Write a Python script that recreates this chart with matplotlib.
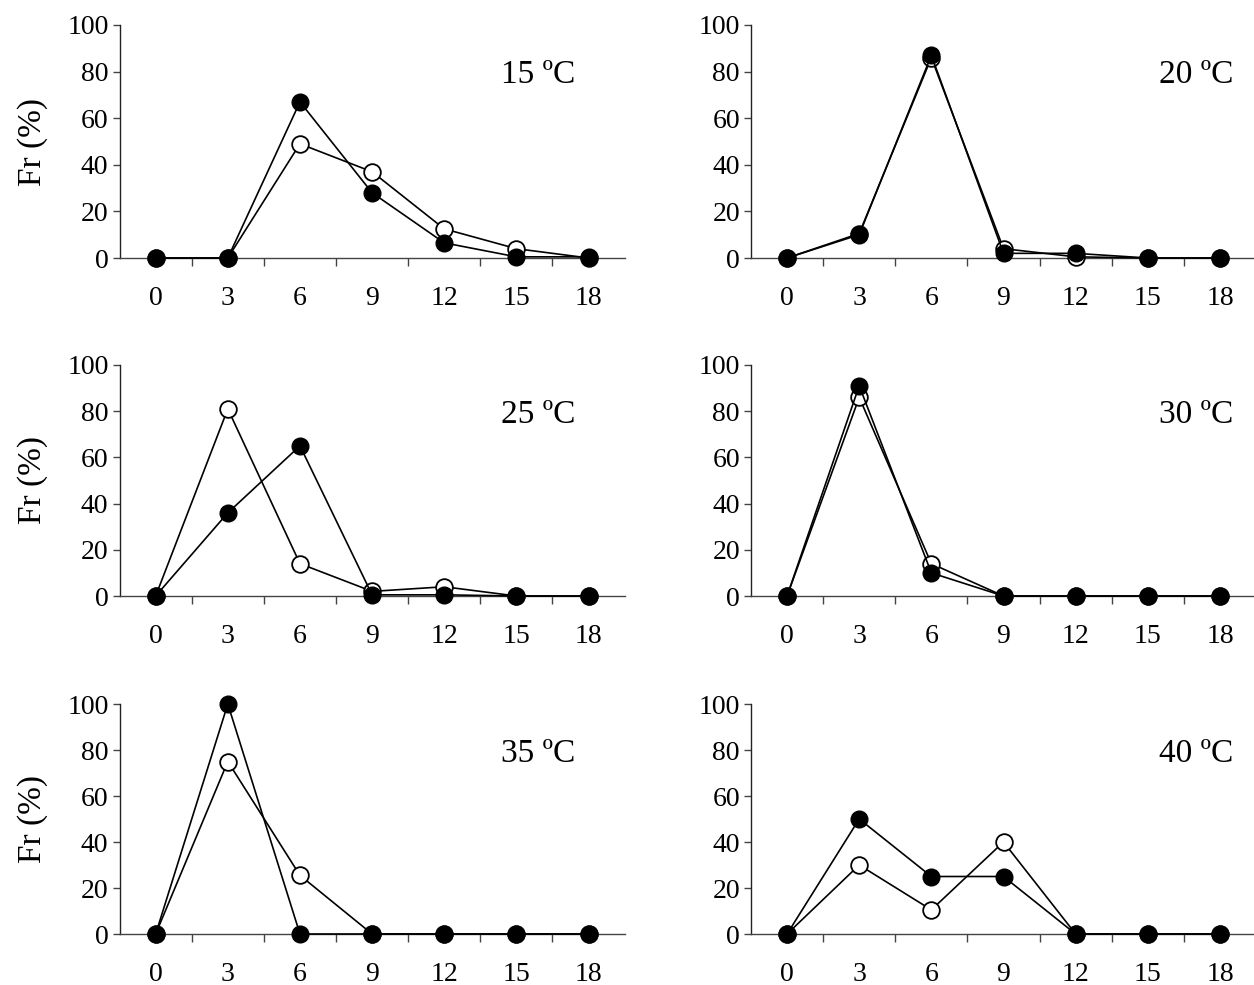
import numpy as np
import matplotlib.pyplot as plt

# Clases (categorías del eje X)
clases = ['0', '3', '6', '9', '12', '15', '18']

# Temperaturas de cada panel
temps = ['15 ºC', '20 ºC', '25 ºC', '30 ºC', '35 ºC', '40 ºC']

# Series: abiertas (círculo blanco) y rellenas (círculo negro)
abierto_15 = [0, 0, 49, 37, 12.5, 4, 0]
relleno_15 = [0, 0, 67, 28, 6.5, 0.5, 0.5]

abierto_20 = [0, 10.5, 86, 4, 0.5, 0, 0]
relleno_20 = [0, 10, 87, 2, 2, 0, 0]

abierto_25 = [0, 81, 14, 2, 4, 0, 0]
relleno_25 = [0, 36, 65, 0.5, 0.5, 0, 0]

abierto_30 = [0, 86, 14, 0, 0, 0, 0]
relleno_30 = [0, 91, 10, 0, 0, 0, 0]

abierto_35 = [0, 75, 25.5, 0, 0, 0, 0]
relleno_35 = [0, 100, 0, 0, 0, 0, 0]

abierto_40 = [0, 30, 10.5, 40, 0, 0, 0]
relleno_40 = [0, 50, 25, 25, 0, 0, 0]

abiertos = [abierto_15, abierto_20, abierto_25, abierto_30, abierto_35, abierto_40]
rellenos = [relleno_15, relleno_20, relleno_25, relleno_30, relleno_35, relleno_40]

plt.rcParams['font.family'] = ['Liberation Serif', 'DejaVu Serif']

fig = plt.figure(figsize=(12.54, 9.85), dpi=100)

W, H = 1254, 985
# posiciones de los ejes en píxeles (izq, arriba, abajo)
cols = [119.6, 751]
filas = [(25, 258), (365, 596), (704, 934)]
ancho = 505

X = np.arange(len(clases))

for i in range(6):
    fila, col = divmod(i, 2)
    top, bot = filas[fila]
    ax = fig.add_axes([cols[col] / W, 1 - bot / H, ancho / W, (bot - top) / H])

    ax.plot(X, abiertos[i], color='black', linewidth=1.2, marker='o',
            markersize=12, markerfacecolor='white', markeredgecolor='black',
            markeredgewidth=1.3, clip_on=False, zorder=3)
    ax.plot(X, rellenos[i], color='black', linewidth=1.2, marker='o',
            markersize=12, markerfacecolor='black', markeredgecolor='black',
            clip_on=False, zorder=4)

    ax.set_xlim(-0.5, len(clases) - 0.5)
    ax.set_ylim(0, 100)

    # Eje X: etiquetas en el centro, marcas entre categorías
    ax.set_xticks(X)
    ax.set_xticklabels(clases)
    ax.set_xticks(np.arange(0.5, len(clases) - 0.5, 1), minor=True)
    ax.tick_params(axis='x', which='major', length=0, pad=20, labelsize=20)
    ax.tick_params(axis='x', which='minor', length=6, width=1, direction='out',
                   color='#444444')

    # Eje Y
    ax.set_yticks(np.arange(0, 101, 20))
    ax.tick_params(axis='y', length=5, width=1, pad=3, labelsize=20,
                   color='#444444')

    for s in ['top', 'right']:
        ax.spines[s].set_visible(False)
    ax.spines['left'].set_color('#222222')
    ax.spines['bottom'].set_color('#444444')
    ax.spines['left'].set_linewidth(1)
    ax.spines['bottom'].set_linewidth(1)

    if col == 0:
        ax.set_ylabel('Fr (%)', fontsize=24, labelpad=14)

    ax.text(0.903 if col == 0 else 0.955, 0.785, temps[i], transform=ax.transAxes,
            ha='right', va='center', fontsize=24)

plt.savefig('out.png', dpi=100)
